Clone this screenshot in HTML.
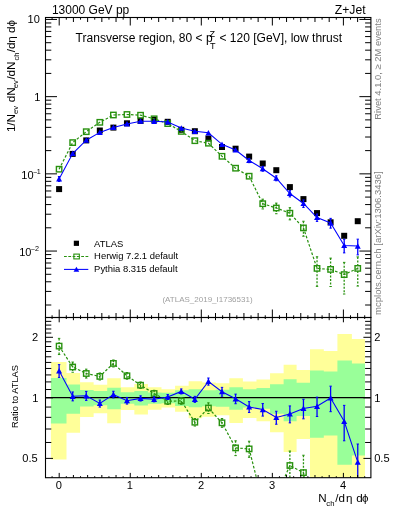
<!DOCTYPE html><html><head><meta charset="utf-8"><style>html,body{margin:0;padding:0;background:#fff;width:393px;height:512px;overflow:hidden;position:relative}</style></head><body><svg width="393" height="512" viewBox="0 0 393 512" style="position:absolute;left:0;top:0;will-change:transform"><defs><clipPath id="cm"><rect x="45.5" y="17.5" width="325.3" height="299.9"/></clipPath><clipPath id="cr"><rect x="45.5" y="317.4" width="325.3" height="160.1"/></clipPath></defs><rect width="393" height="512" fill="#fff"/><g clip-path="url(#cr)"><path d="M50.90 362.08H66.50V459.45H50.90ZM66.50 372.95H80.07V432.80H66.50ZM80.07 382.23H93.64V416.89H80.07ZM93.64 384.72H107.21V413.31H93.64ZM107.21 378.23H120.78V423.19H107.21ZM120.78 387.21H134.35V409.97H120.78ZM134.35 383.89H147.92V414.47H134.35ZM147.92 387.36H161.49V409.78H147.92ZM161.49 389.20H175.06V407.45H161.49ZM175.06 385.86H188.63V411.75H175.06ZM188.63 381.29H202.20V418.30H188.63ZM202.20 382.40H215.77V416.63H202.20ZM215.77 383.28H229.34V415.34H215.77ZM229.34 378.30H242.91V423.07H229.34ZM242.91 381.46H256.48V418.04H242.91ZM256.48 379.46H270.05V421.17H256.48ZM270.05 373.23H283.62V432.26H270.05ZM283.62 364.68H296.60V451.98H283.62ZM296.60 370.02H310.00V438.94H296.60ZM310.00 349.20H323.80V517.32H310.00ZM323.80 351.00H337.40V505.89H323.80ZM337.40 334.00H351.90V600.00H337.40ZM351.90 339.00H365.00V600.00H351.90Z" fill="#ffff99"/><path d="M50.90 378.07H66.50V423.46H50.90ZM66.50 384.48H80.07V413.65H66.50ZM80.07 389.96H93.64V406.52H80.07ZM93.64 391.02H107.21V405.26H93.64ZM107.21 387.73H120.78V409.30H107.21ZM120.78 392.37H134.35V403.70H120.78ZM134.35 390.88H147.92V405.42H134.35ZM147.92 392.38H161.49V403.69H147.92ZM161.49 392.68H175.06V403.34H161.49ZM175.06 390.33H188.63V406.07H175.06ZM188.63 389.27H202.20V407.36H188.63ZM202.20 390.22H215.77V406.21H202.20ZM215.77 389.82H229.34V406.69H215.77ZM229.34 387.33H242.91V409.81H229.34ZM242.91 389.22H256.48V407.42H242.91ZM256.48 388.12H270.05V408.80H256.48ZM270.05 384.37H283.62V413.80H270.05ZM283.62 379.36H296.60V421.33H283.62ZM296.60 382.82H310.00V416.02H296.60ZM310.00 370.57H323.80V437.73H310.00ZM323.80 371.61H337.40V435.53H323.80ZM337.40 360.42H351.90V464.72H337.40ZM351.90 363.42H365.00V455.51H351.90Z" fill="#99ff99"/><line x1="45.5" y1="397.6" x2="370.9" y2="397.6" stroke="#000" stroke-width="1.1"/></g><g clip-path="url(#cr)"><polyline points="59.10,346.10 72.67,367.00 86.25,373.50 99.82,376.40 113.40,363.40 126.97,375.80 140.55,385.20 154.12,393.50 167.70,401.20 181.28,400.90 194.85,422.20 208.42,408.00 222.00,422.80 235.57,447.90 249.15,448.90 262.73,502.57 276.30,496.32 289.88,465.50 303.45,472.60 317.03,541.91 330.60,520.55 344.18,498.92 357.75,520.81" fill="none" stroke="rgb(40,145,15)" stroke-width="1.2" stroke-dasharray="2.6 1.8"/><line x1="59.10" y1="338.39" x2="59.10" y2="354.55" stroke="rgb(40,145,15)" stroke-width="1.3" stroke-dasharray="2 1.5"/><line x1="57.90" y1="338.39" x2="60.30" y2="338.39" stroke="rgb(40,145,15)" stroke-width="1"/><line x1="57.90" y1="354.55" x2="60.30" y2="354.55" stroke="rgb(40,145,15)" stroke-width="1"/><rect x="56.40" y="343.40" width="5.40" height="5.40" fill="none" stroke="rgb(40,145,15)" stroke-width="1.4"/><line x1="72.67" y1="362.05" x2="72.67" y2="372.25" stroke="rgb(40,145,15)" stroke-width="1.3" stroke-dasharray="2 1.5"/><line x1="71.47" y1="362.05" x2="73.88" y2="362.05" stroke="rgb(40,145,15)" stroke-width="1"/><line x1="71.47" y1="372.25" x2="73.88" y2="372.25" stroke="rgb(40,145,15)" stroke-width="1"/><rect x="69.97" y="364.30" width="5.40" height="5.40" fill="none" stroke="rgb(40,145,15)" stroke-width="1.4"/><line x1="86.25" y1="369.15" x2="86.25" y2="378.08" stroke="rgb(40,145,15)" stroke-width="1.3" stroke-dasharray="2 1.5"/><line x1="85.05" y1="369.15" x2="87.45" y2="369.15" stroke="rgb(40,145,15)" stroke-width="1"/><line x1="85.05" y1="378.08" x2="87.45" y2="378.08" stroke="rgb(40,145,15)" stroke-width="1"/><rect x="83.55" y="370.80" width="5.40" height="5.40" fill="none" stroke="rgb(40,145,15)" stroke-width="1.4"/><line x1="99.82" y1="372.97" x2="99.82" y2="379.97" stroke="rgb(40,145,15)" stroke-width="1.3" stroke-dasharray="2 1.5"/><line x1="98.62" y1="372.97" x2="101.02" y2="372.97" stroke="rgb(40,145,15)" stroke-width="1"/><line x1="98.62" y1="379.97" x2="101.02" y2="379.97" stroke="rgb(40,145,15)" stroke-width="1"/><rect x="97.12" y="373.70" width="5.40" height="5.40" fill="none" stroke="rgb(40,145,15)" stroke-width="1.4"/><line x1="113.40" y1="359.97" x2="113.40" y2="366.97" stroke="rgb(40,145,15)" stroke-width="1.3" stroke-dasharray="2 1.5"/><line x1="112.20" y1="359.97" x2="114.60" y2="359.97" stroke="rgb(40,145,15)" stroke-width="1"/><line x1="112.20" y1="366.97" x2="114.60" y2="366.97" stroke="rgb(40,145,15)" stroke-width="1"/><rect x="110.70" y="360.70" width="5.40" height="5.40" fill="none" stroke="rgb(40,145,15)" stroke-width="1.4"/><line x1="126.97" y1="372.51" x2="126.97" y2="379.21" stroke="rgb(40,145,15)" stroke-width="1.3" stroke-dasharray="2 1.5"/><line x1="125.77" y1="372.51" x2="128.17" y2="372.51" stroke="rgb(40,145,15)" stroke-width="1"/><line x1="125.77" y1="379.21" x2="128.17" y2="379.21" stroke="rgb(40,145,15)" stroke-width="1"/><rect x="124.27" y="373.10" width="5.40" height="5.40" fill="none" stroke="rgb(40,145,15)" stroke-width="1.4"/><line x1="140.55" y1="382.01" x2="140.55" y2="388.51" stroke="rgb(40,145,15)" stroke-width="1.3" stroke-dasharray="2 1.5"/><line x1="139.35" y1="382.01" x2="141.75" y2="382.01" stroke="rgb(40,145,15)" stroke-width="1"/><line x1="139.35" y1="388.51" x2="141.75" y2="388.51" stroke="rgb(40,145,15)" stroke-width="1"/><rect x="137.85" y="382.50" width="5.40" height="5.40" fill="none" stroke="rgb(40,145,15)" stroke-width="1.4"/><line x1="154.12" y1="390.31" x2="154.12" y2="396.81" stroke="rgb(40,145,15)" stroke-width="1.3" stroke-dasharray="2 1.5"/><line x1="152.93" y1="390.31" x2="155.32" y2="390.31" stroke="rgb(40,145,15)" stroke-width="1"/><line x1="152.93" y1="396.81" x2="155.32" y2="396.81" stroke="rgb(40,145,15)" stroke-width="1"/><rect x="151.43" y="390.80" width="5.40" height="5.40" fill="none" stroke="rgb(40,145,15)" stroke-width="1.4"/><line x1="167.70" y1="398.01" x2="167.70" y2="404.51" stroke="rgb(40,145,15)" stroke-width="1.3" stroke-dasharray="2 1.5"/><line x1="166.50" y1="398.01" x2="168.90" y2="398.01" stroke="rgb(40,145,15)" stroke-width="1"/><line x1="166.50" y1="404.51" x2="168.90" y2="404.51" stroke="rgb(40,145,15)" stroke-width="1"/><rect x="165.00" y="398.50" width="5.40" height="5.40" fill="none" stroke="rgb(40,145,15)" stroke-width="1.4"/><line x1="181.28" y1="397.61" x2="181.28" y2="404.31" stroke="rgb(40,145,15)" stroke-width="1.3" stroke-dasharray="2 1.5"/><line x1="180.08" y1="397.61" x2="182.47" y2="397.61" stroke="rgb(40,145,15)" stroke-width="1"/><line x1="180.08" y1="404.31" x2="182.47" y2="404.31" stroke="rgb(40,145,15)" stroke-width="1"/><rect x="178.58" y="398.20" width="5.40" height="5.40" fill="none" stroke="rgb(40,145,15)" stroke-width="1.4"/><line x1="194.85" y1="418.53" x2="194.85" y2="426.03" stroke="rgb(40,145,15)" stroke-width="1.3" stroke-dasharray="2 1.5"/><line x1="193.65" y1="418.53" x2="196.05" y2="418.53" stroke="rgb(40,145,15)" stroke-width="1"/><line x1="193.65" y1="426.03" x2="196.05" y2="426.03" stroke="rgb(40,145,15)" stroke-width="1"/><rect x="192.15" y="419.50" width="5.40" height="5.40" fill="none" stroke="rgb(40,145,15)" stroke-width="1.4"/><line x1="208.42" y1="402.84" x2="208.42" y2="413.48" stroke="rgb(40,145,15)" stroke-width="1.3" stroke-dasharray="2 1.5"/><line x1="207.22" y1="402.84" x2="209.62" y2="402.84" stroke="rgb(40,145,15)" stroke-width="1"/><line x1="207.22" y1="413.48" x2="209.62" y2="413.48" stroke="rgb(40,145,15)" stroke-width="1"/><rect x="205.72" y="405.30" width="5.40" height="5.40" fill="none" stroke="rgb(40,145,15)" stroke-width="1.4"/><line x1="222.00" y1="418.51" x2="222.00" y2="427.31" stroke="rgb(40,145,15)" stroke-width="1.3" stroke-dasharray="2 1.5"/><line x1="220.80" y1="418.51" x2="223.20" y2="418.51" stroke="rgb(40,145,15)" stroke-width="1"/><line x1="220.80" y1="427.31" x2="223.20" y2="427.31" stroke="rgb(40,145,15)" stroke-width="1"/><rect x="219.30" y="420.10" width="5.40" height="5.40" fill="none" stroke="rgb(40,145,15)" stroke-width="1.4"/><line x1="235.57" y1="440.81" x2="235.57" y2="455.62" stroke="rgb(40,145,15)" stroke-width="1.3" stroke-dasharray="2 1.5"/><line x1="234.38" y1="440.81" x2="236.77" y2="440.81" stroke="rgb(40,145,15)" stroke-width="1"/><line x1="234.38" y1="455.62" x2="236.77" y2="455.62" stroke="rgb(40,145,15)" stroke-width="1"/><rect x="232.88" y="445.20" width="5.40" height="5.40" fill="none" stroke="rgb(40,145,15)" stroke-width="1.4"/><line x1="249.15" y1="441.23" x2="249.15" y2="457.31" stroke="rgb(40,145,15)" stroke-width="1.3" stroke-dasharray="2 1.5"/><line x1="247.95" y1="441.23" x2="250.35" y2="441.23" stroke="rgb(40,145,15)" stroke-width="1"/><line x1="247.95" y1="457.31" x2="250.35" y2="457.31" stroke="rgb(40,145,15)" stroke-width="1"/><rect x="246.45" y="446.20" width="5.40" height="5.40" fill="none" stroke="rgb(40,145,15)" stroke-width="1.4"/><line x1="289.88" y1="451.04" x2="289.88" y2="482.84" stroke="rgb(40,145,15)" stroke-width="1.3" stroke-dasharray="2 1.5"/><line x1="288.68" y1="451.04" x2="291.07" y2="451.04" stroke="rgb(40,145,15)" stroke-width="1"/><line x1="288.68" y1="482.84" x2="291.07" y2="482.84" stroke="rgb(40,145,15)" stroke-width="1"/><rect x="287.18" y="462.80" width="5.40" height="5.40" fill="none" stroke="rgb(40,145,15)" stroke-width="1.4"/><line x1="303.45" y1="455.23" x2="303.45" y2="494.30" stroke="rgb(40,145,15)" stroke-width="1.3" stroke-dasharray="2 1.5"/><line x1="302.25" y1="455.23" x2="304.65" y2="455.23" stroke="rgb(40,145,15)" stroke-width="1"/><line x1="302.25" y1="494.30" x2="304.65" y2="494.30" stroke="rgb(40,145,15)" stroke-width="1"/><rect x="300.75" y="469.90" width="5.40" height="5.40" fill="none" stroke="rgb(40,145,15)" stroke-width="1.4"/><polyline points="59.10,370.80 72.67,396.30 86.25,395.80 99.82,403.50 113.40,394.50 126.97,400.70 140.55,398.40 154.12,399.30 167.70,397.00 181.28,391.40 194.85,399.30 208.42,381.50 222.00,391.70 235.57,398.80 249.15,406.90 262.73,409.60 276.30,417.50 289.88,414.00 303.45,408.50 317.03,406.30 330.60,398.00 344.18,421.30 357.75,462.10" fill="none" stroke="#0000ff" stroke-width="1.05"/><line x1="59.10" y1="364.62" x2="59.10" y2="377.45" stroke="#0000ff" stroke-width="1.3"/><line x1="57.90" y1="364.62" x2="60.30" y2="364.62" stroke="#0000ff" stroke-width="1"/><line x1="57.90" y1="377.45" x2="60.30" y2="377.45" stroke="#0000ff" stroke-width="1"/><path d="M59.10 367.90 L62.10 373.40 L56.10 373.40Z" fill="#0000ff"/><line x1="72.67" y1="391.95" x2="72.67" y2="400.88" stroke="#0000ff" stroke-width="1.3"/><line x1="71.47" y1="391.95" x2="73.88" y2="391.95" stroke="#0000ff" stroke-width="1"/><line x1="71.47" y1="400.88" x2="73.88" y2="400.88" stroke="#0000ff" stroke-width="1"/><path d="M72.67 393.40 L75.67 398.90 L69.67 398.90Z" fill="#0000ff"/><line x1="86.25" y1="391.42" x2="86.25" y2="400.41" stroke="#0000ff" stroke-width="1.3"/><line x1="85.05" y1="391.42" x2="87.45" y2="391.42" stroke="#0000ff" stroke-width="1"/><line x1="85.05" y1="400.41" x2="87.45" y2="400.41" stroke="#0000ff" stroke-width="1"/><path d="M86.25 392.90 L89.25 398.40 L83.25 398.40Z" fill="#0000ff"/><line x1="99.82" y1="400.04" x2="99.82" y2="407.10" stroke="#0000ff" stroke-width="1.3"/><line x1="98.62" y1="400.04" x2="101.02" y2="400.04" stroke="#0000ff" stroke-width="1"/><line x1="98.62" y1="407.10" x2="101.02" y2="407.10" stroke="#0000ff" stroke-width="1"/><path d="M99.82 400.60 L102.82 406.10 L96.82 406.10Z" fill="#0000ff"/><line x1="113.40" y1="391.26" x2="113.40" y2="397.86" stroke="#0000ff" stroke-width="1.3"/><line x1="112.20" y1="391.26" x2="114.60" y2="391.26" stroke="#0000ff" stroke-width="1"/><line x1="112.20" y1="397.86" x2="114.60" y2="397.86" stroke="#0000ff" stroke-width="1"/><path d="M113.40 391.60 L116.40 397.10 L110.40 397.10Z" fill="#0000ff"/><line x1="126.97" y1="397.45" x2="126.97" y2="404.08" stroke="#0000ff" stroke-width="1.3"/><line x1="125.77" y1="397.45" x2="128.17" y2="397.45" stroke="#0000ff" stroke-width="1"/><line x1="125.77" y1="404.08" x2="128.17" y2="404.08" stroke="#0000ff" stroke-width="1"/><path d="M126.97 397.80 L129.97 403.30 L123.97 403.30Z" fill="#0000ff"/><line x1="140.55" y1="395.84" x2="140.55" y2="401.04" stroke="#0000ff" stroke-width="1.3"/><line x1="139.35" y1="395.84" x2="141.75" y2="395.84" stroke="#0000ff" stroke-width="1"/><line x1="139.35" y1="401.04" x2="141.75" y2="401.04" stroke="#0000ff" stroke-width="1"/><path d="M140.55 395.50 L143.55 401.00 L137.55 401.00Z" fill="#0000ff"/><line x1="154.12" y1="396.83" x2="154.12" y2="401.84" stroke="#0000ff" stroke-width="1.3"/><line x1="152.93" y1="396.83" x2="155.32" y2="396.83" stroke="#0000ff" stroke-width="1"/><line x1="152.93" y1="401.84" x2="155.32" y2="401.84" stroke="#0000ff" stroke-width="1"/><path d="M154.12 396.40 L157.12 401.90 L151.12 401.90Z" fill="#0000ff"/><line x1="167.70" y1="394.53" x2="167.70" y2="399.54" stroke="#0000ff" stroke-width="1.3"/><line x1="166.50" y1="394.53" x2="168.90" y2="394.53" stroke="#0000ff" stroke-width="1"/><line x1="166.50" y1="399.54" x2="168.90" y2="399.54" stroke="#0000ff" stroke-width="1"/><path d="M167.70 394.10 L170.70 399.60 L164.70 399.60Z" fill="#0000ff"/><line x1="181.28" y1="388.93" x2="181.28" y2="393.94" stroke="#0000ff" stroke-width="1.3"/><line x1="180.08" y1="388.93" x2="182.47" y2="388.93" stroke="#0000ff" stroke-width="1"/><line x1="180.08" y1="393.94" x2="182.47" y2="393.94" stroke="#0000ff" stroke-width="1"/><path d="M181.28 388.50 L184.28 394.00 L178.28 394.00Z" fill="#0000ff"/><line x1="194.85" y1="396.35" x2="194.85" y2="402.35" stroke="#0000ff" stroke-width="1.3"/><line x1="193.65" y1="396.35" x2="196.05" y2="396.35" stroke="#0000ff" stroke-width="1"/><line x1="193.65" y1="402.35" x2="196.05" y2="402.35" stroke="#0000ff" stroke-width="1"/><path d="M194.85 396.40 L197.85 401.90 L191.85 401.90Z" fill="#0000ff"/><line x1="208.42" y1="378.00" x2="208.42" y2="385.14" stroke="#0000ff" stroke-width="1.3"/><line x1="207.22" y1="378.00" x2="209.62" y2="378.00" stroke="#0000ff" stroke-width="1"/><line x1="207.22" y1="385.14" x2="209.62" y2="385.14" stroke="#0000ff" stroke-width="1"/><path d="M208.42 378.60 L211.42 384.10 L205.42 384.10Z" fill="#0000ff"/><line x1="222.00" y1="387.39" x2="222.00" y2="396.23" stroke="#0000ff" stroke-width="1.3"/><line x1="220.80" y1="387.39" x2="223.20" y2="387.39" stroke="#0000ff" stroke-width="1"/><line x1="220.80" y1="396.23" x2="223.20" y2="396.23" stroke="#0000ff" stroke-width="1"/><path d="M222.00 388.80 L225.00 394.30 L219.00 394.30Z" fill="#0000ff"/><line x1="235.57" y1="394.12" x2="235.57" y2="403.74" stroke="#0000ff" stroke-width="1.3"/><line x1="234.38" y1="394.12" x2="236.77" y2="394.12" stroke="#0000ff" stroke-width="1"/><line x1="234.38" y1="403.74" x2="236.77" y2="403.74" stroke="#0000ff" stroke-width="1"/><path d="M235.57 395.90 L238.57 401.40 L232.57 401.40Z" fill="#0000ff"/><line x1="249.15" y1="401.61" x2="249.15" y2="412.53" stroke="#0000ff" stroke-width="1.3"/><line x1="247.95" y1="401.61" x2="250.35" y2="401.61" stroke="#0000ff" stroke-width="1"/><line x1="247.95" y1="412.53" x2="250.35" y2="412.53" stroke="#0000ff" stroke-width="1"/><path d="M249.15 404.00 L252.15 409.50 L246.15 409.50Z" fill="#0000ff"/><line x1="262.73" y1="403.54" x2="262.73" y2="416.12" stroke="#0000ff" stroke-width="1.3"/><line x1="261.53" y1="403.54" x2="263.93" y2="403.54" stroke="#0000ff" stroke-width="1"/><line x1="261.53" y1="416.12" x2="263.93" y2="416.12" stroke="#0000ff" stroke-width="1"/><path d="M262.73 406.70 L265.73 412.20 L259.73 412.20Z" fill="#0000ff"/><line x1="276.30" y1="411.25" x2="276.30" y2="424.24" stroke="#0000ff" stroke-width="1.3"/><line x1="275.10" y1="411.25" x2="277.50" y2="411.25" stroke="#0000ff" stroke-width="1"/><line x1="275.10" y1="424.24" x2="277.50" y2="424.24" stroke="#0000ff" stroke-width="1"/><path d="M276.30 414.60 L279.30 420.10 L273.30 420.10Z" fill="#0000ff"/><line x1="289.88" y1="405.93" x2="289.88" y2="422.89" stroke="#0000ff" stroke-width="1.3"/><line x1="288.68" y1="405.93" x2="291.07" y2="405.93" stroke="#0000ff" stroke-width="1"/><line x1="288.68" y1="422.89" x2="291.07" y2="422.89" stroke="#0000ff" stroke-width="1"/><path d="M289.88 411.10 L292.88 416.60 L286.88 416.60Z" fill="#0000ff"/><line x1="303.45" y1="399.25" x2="303.45" y2="418.84" stroke="#0000ff" stroke-width="1.3"/><line x1="302.25" y1="399.25" x2="304.65" y2="399.25" stroke="#0000ff" stroke-width="1"/><line x1="302.25" y1="418.84" x2="304.65" y2="418.84" stroke="#0000ff" stroke-width="1"/><path d="M303.45 405.60 L306.45 411.10 L300.45 411.10Z" fill="#0000ff"/><line x1="317.03" y1="397.18" x2="317.03" y2="416.48" stroke="#0000ff" stroke-width="1.3"/><line x1="315.83" y1="397.18" x2="318.23" y2="397.18" stroke="#0000ff" stroke-width="1"/><line x1="315.83" y1="416.48" x2="318.23" y2="416.48" stroke="#0000ff" stroke-width="1"/><path d="M317.03 403.40 L320.03 408.90 L314.03 408.90Z" fill="#0000ff"/><line x1="330.60" y1="386.17" x2="330.60" y2="411.68" stroke="#0000ff" stroke-width="1.3"/><line x1="329.40" y1="386.17" x2="331.80" y2="386.17" stroke="#0000ff" stroke-width="1"/><line x1="329.40" y1="411.68" x2="331.80" y2="411.68" stroke="#0000ff" stroke-width="1"/><path d="M330.60 395.10 L333.60 400.60 L327.60 400.60Z" fill="#0000ff"/><line x1="344.18" y1="405.37" x2="344.18" y2="440.79" stroke="#0000ff" stroke-width="1.3"/><line x1="342.98" y1="405.37" x2="345.38" y2="405.37" stroke="#0000ff" stroke-width="1"/><line x1="342.98" y1="440.79" x2="345.38" y2="440.79" stroke="#0000ff" stroke-width="1"/><path d="M344.18 418.40 L347.18 423.90 L341.18 423.90Z" fill="#0000ff"/><line x1="357.75" y1="444.02" x2="357.75" y2="484.93" stroke="#0000ff" stroke-width="1.3"/><line x1="356.55" y1="444.02" x2="358.95" y2="444.02" stroke="#0000ff" stroke-width="1"/><line x1="356.55" y1="484.93" x2="358.95" y2="484.93" stroke="#0000ff" stroke-width="1"/><path d="M357.75 459.20 L360.75 464.70 L354.75 464.70Z" fill="#0000ff"/></g><g clip-path="url(#cm)"><rect x="56.10" y="186.10" width="6.0" height="6.0" fill="#000"/><rect x="69.67" y="150.90" width="6.0" height="6.0" fill="#000"/><rect x="83.25" y="137.40" width="6.0" height="6.0" fill="#000"/><rect x="96.82" y="127.50" width="6.0" height="6.0" fill="#000"/><rect x="110.40" y="124.60" width="6.0" height="6.0" fill="#000"/><rect x="123.97" y="120.30" width="6.0" height="6.0" fill="#000"/><rect x="137.55" y="117.90" width="6.0" height="6.0" fill="#000"/><rect x="151.12" y="116.70" width="6.0" height="6.0" fill="#000"/><rect x="164.70" y="118.80" width="6.0" height="6.0" fill="#000"/><rect x="178.28" y="126.80" width="6.0" height="6.0" fill="#000"/><rect x="191.85" y="128.20" width="6.0" height="6.0" fill="#000"/><rect x="205.42" y="135.50" width="6.0" height="6.0" fill="#000"/><rect x="219.00" y="144.00" width="6.0" height="6.0" fill="#000"/><rect x="232.57" y="145.70" width="6.0" height="6.0" fill="#000"/><rect x="246.15" y="153.60" width="6.0" height="6.0" fill="#000"/><rect x="259.73" y="160.50" width="6.0" height="6.0" fill="#000"/><rect x="273.30" y="167.20" width="6.0" height="6.0" fill="#000"/><rect x="286.88" y="184.10" width="6.0" height="6.0" fill="#000"/><rect x="300.45" y="196.10" width="6.0" height="6.0" fill="#000"/><rect x="314.03" y="210.10" width="6.0" height="6.0" fill="#000"/><rect x="327.60" y="219.30" width="6.0" height="6.0" fill="#000"/><rect x="341.18" y="232.80" width="6.0" height="6.0" fill="#000"/><rect x="354.75" y="218.20" width="6.0" height="6.0" fill="#000"/><polyline points="59.10,169.20 72.67,142.60 86.25,131.70 99.82,122.30 113.40,115.00 126.97,114.50 140.55,115.20 154.12,118.80 167.70,123.60 181.28,131.40 194.85,140.70 208.42,143.20 222.00,156.30 235.57,168.20 249.15,176.20 262.73,203.70 276.30,208.00 289.88,213.20 303.45,227.90 317.03,268.40 330.60,269.40 344.18,274.60 357.75,268.40" fill="none" stroke="rgb(40,145,15)" stroke-width="1.2" stroke-dasharray="2.6 1.8"/><rect x="56.40" y="166.50" width="5.40" height="5.40" fill="none" stroke="rgb(40,145,15)" stroke-width="1.4"/><rect x="69.97" y="139.90" width="5.40" height="5.40" fill="none" stroke="rgb(40,145,15)" stroke-width="1.4"/><rect x="83.55" y="129.00" width="5.40" height="5.40" fill="none" stroke="rgb(40,145,15)" stroke-width="1.4"/><rect x="97.12" y="119.60" width="5.40" height="5.40" fill="none" stroke="rgb(40,145,15)" stroke-width="1.4"/><rect x="110.70" y="112.30" width="5.40" height="5.40" fill="none" stroke="rgb(40,145,15)" stroke-width="1.4"/><rect x="124.27" y="111.80" width="5.40" height="5.40" fill="none" stroke="rgb(40,145,15)" stroke-width="1.4"/><rect x="137.85" y="112.50" width="5.40" height="5.40" fill="none" stroke="rgb(40,145,15)" stroke-width="1.4"/><rect x="151.43" y="116.10" width="5.40" height="5.40" fill="none" stroke="rgb(40,145,15)" stroke-width="1.4"/><rect x="165.00" y="120.90" width="5.40" height="5.40" fill="none" stroke="rgb(40,145,15)" stroke-width="1.4"/><rect x="178.58" y="128.70" width="5.40" height="5.40" fill="none" stroke="rgb(40,145,15)" stroke-width="1.4"/><rect x="192.15" y="138.00" width="5.40" height="5.40" fill="none" stroke="rgb(40,145,15)" stroke-width="1.4"/><rect x="205.72" y="140.50" width="5.40" height="5.40" fill="none" stroke="rgb(40,145,15)" stroke-width="1.4"/><rect x="219.30" y="153.60" width="5.40" height="5.40" fill="none" stroke="rgb(40,145,15)" stroke-width="1.4"/><rect x="232.88" y="165.50" width="5.40" height="5.40" fill="none" stroke="rgb(40,145,15)" stroke-width="1.4"/><rect x="246.45" y="173.50" width="5.40" height="5.40" fill="none" stroke="rgb(40,145,15)" stroke-width="1.4"/><line x1="262.73" y1="199.16" x2="262.73" y2="208.95" stroke="rgb(40,145,15)" stroke-width="1.3" stroke-dasharray="2 1.5"/><line x1="261.53" y1="199.16" x2="263.93" y2="199.16" stroke="rgb(40,145,15)" stroke-width="1"/><line x1="261.53" y1="208.95" x2="263.93" y2="208.95" stroke="rgb(40,145,15)" stroke-width="1"/><rect x="260.03" y="201.00" width="5.40" height="5.40" fill="none" stroke="rgb(40,145,15)" stroke-width="1.4"/><line x1="276.30" y1="203.11" x2="276.30" y2="213.73" stroke="rgb(40,145,15)" stroke-width="1.3" stroke-dasharray="2 1.5"/><line x1="275.10" y1="203.11" x2="277.50" y2="203.11" stroke="rgb(40,145,15)" stroke-width="1"/><line x1="275.10" y1="213.73" x2="277.50" y2="213.73" stroke="rgb(40,145,15)" stroke-width="1"/><rect x="273.60" y="205.30" width="5.40" height="5.40" fill="none" stroke="rgb(40,145,15)" stroke-width="1.4"/><line x1="289.88" y1="207.65" x2="289.88" y2="219.85" stroke="rgb(40,145,15)" stroke-width="1.3" stroke-dasharray="2 1.5"/><line x1="288.68" y1="207.65" x2="291.07" y2="207.65" stroke="rgb(40,145,15)" stroke-width="1"/><line x1="288.68" y1="219.85" x2="291.07" y2="219.85" stroke="rgb(40,145,15)" stroke-width="1"/><rect x="287.18" y="210.50" width="5.40" height="5.40" fill="none" stroke="rgb(40,145,15)" stroke-width="1.4"/><line x1="303.45" y1="221.23" x2="303.45" y2="236.23" stroke="rgb(40,145,15)" stroke-width="1.3" stroke-dasharray="2 1.5"/><line x1="302.25" y1="221.23" x2="304.65" y2="221.23" stroke="rgb(40,145,15)" stroke-width="1"/><line x1="302.25" y1="236.23" x2="304.65" y2="236.23" stroke="rgb(40,145,15)" stroke-width="1"/><rect x="300.75" y="225.20" width="5.40" height="5.40" fill="none" stroke="rgb(40,145,15)" stroke-width="1.4"/><line x1="317.03" y1="256.76" x2="317.03" y2="286.38" stroke="rgb(40,145,15)" stroke-width="1.3" stroke-dasharray="2 1.5"/><line x1="315.83" y1="256.76" x2="318.23" y2="256.76" stroke="rgb(40,145,15)" stroke-width="1"/><line x1="315.83" y1="286.38" x2="318.23" y2="286.38" stroke="rgb(40,145,15)" stroke-width="1"/><rect x="314.33" y="265.70" width="5.40" height="5.40" fill="none" stroke="rgb(40,145,15)" stroke-width="1.4"/><line x1="330.60" y1="258.12" x2="330.60" y2="286.53" stroke="rgb(40,145,15)" stroke-width="1.3" stroke-dasharray="2 1.5"/><line x1="329.40" y1="258.12" x2="331.80" y2="258.12" stroke="rgb(40,145,15)" stroke-width="1"/><line x1="329.40" y1="286.53" x2="331.80" y2="286.53" stroke="rgb(40,145,15)" stroke-width="1"/><rect x="327.90" y="266.70" width="5.40" height="5.40" fill="none" stroke="rgb(40,145,15)" stroke-width="1.4"/><line x1="344.18" y1="262.37" x2="344.18" y2="294.04" stroke="rgb(40,145,15)" stroke-width="1.3" stroke-dasharray="2 1.5"/><line x1="342.98" y1="262.37" x2="345.38" y2="262.37" stroke="rgb(40,145,15)" stroke-width="1"/><line x1="342.98" y1="294.04" x2="345.38" y2="294.04" stroke="rgb(40,145,15)" stroke-width="1"/><rect x="341.48" y="271.90" width="5.40" height="5.40" fill="none" stroke="rgb(40,145,15)" stroke-width="1.4"/><line x1="357.75" y1="256.88" x2="357.75" y2="286.09" stroke="rgb(40,145,15)" stroke-width="1.3" stroke-dasharray="2 1.5"/><line x1="356.55" y1="256.88" x2="358.95" y2="256.88" stroke="rgb(40,145,15)" stroke-width="1"/><line x1="356.55" y1="286.09" x2="358.95" y2="286.09" stroke="rgb(40,145,15)" stroke-width="1"/><rect x="355.05" y="265.70" width="5.40" height="5.40" fill="none" stroke="rgb(40,145,15)" stroke-width="1.4"/><polyline points="59.10,178.90 72.67,153.50 86.25,140.20 99.82,132.40 113.40,127.40 126.97,124.00 140.55,121.20 154.12,121.30 167.70,122.00 181.28,128.10 194.85,131.30 208.42,132.80 222.00,144.30 235.57,150.00 249.15,160.50 262.73,168.70 276.30,178.20 289.88,193.50 303.45,203.50 317.03,217.50 330.60,222.90 344.18,245.40 357.75,246.10" fill="none" stroke="#0000ff" stroke-width="1.05"/><line x1="59.10" y1="176.53" x2="59.10" y2="181.45" stroke="#0000ff" stroke-width="1.3"/><line x1="57.90" y1="176.53" x2="60.30" y2="176.53" stroke="#0000ff" stroke-width="1"/><line x1="57.90" y1="181.45" x2="60.30" y2="181.45" stroke="#0000ff" stroke-width="1"/><path d="M59.10 176.00 L62.10 181.50 L56.10 181.50Z" fill="#0000ff"/><path d="M72.67 150.60 L75.67 156.10 L69.67 156.10Z" fill="#0000ff"/><path d="M86.25 137.30 L89.25 142.80 L83.25 142.80Z" fill="#0000ff"/><path d="M99.82 129.50 L102.82 135.00 L96.82 135.00Z" fill="#0000ff"/><path d="M113.40 124.50 L116.40 130.00 L110.40 130.00Z" fill="#0000ff"/><path d="M126.97 121.10 L129.97 126.60 L123.97 126.60Z" fill="#0000ff"/><path d="M140.55 118.30 L143.55 123.80 L137.55 123.80Z" fill="#0000ff"/><path d="M154.12 118.40 L157.12 123.90 L151.12 123.90Z" fill="#0000ff"/><path d="M167.70 119.10 L170.70 124.60 L164.70 124.60Z" fill="#0000ff"/><path d="M181.28 125.20 L184.28 130.70 L178.28 130.70Z" fill="#0000ff"/><path d="M194.85 128.40 L197.85 133.90 L191.85 133.90Z" fill="#0000ff"/><path d="M208.42 129.90 L211.42 135.40 L205.42 135.40Z" fill="#0000ff"/><path d="M222.00 141.40 L225.00 146.90 L219.00 146.90Z" fill="#0000ff"/><path d="M235.57 147.10 L238.57 152.60 L232.57 152.60Z" fill="#0000ff"/><line x1="249.15" y1="158.47" x2="249.15" y2="162.66" stroke="#0000ff" stroke-width="1.3"/><line x1="247.95" y1="158.47" x2="250.35" y2="158.47" stroke="#0000ff" stroke-width="1"/><line x1="247.95" y1="162.66" x2="250.35" y2="162.66" stroke="#0000ff" stroke-width="1"/><path d="M249.15 157.60 L252.15 163.10 L246.15 163.10Z" fill="#0000ff"/><line x1="262.73" y1="166.37" x2="262.73" y2="171.20" stroke="#0000ff" stroke-width="1.3"/><line x1="261.53" y1="166.37" x2="263.93" y2="166.37" stroke="#0000ff" stroke-width="1"/><line x1="261.53" y1="171.20" x2="263.93" y2="171.20" stroke="#0000ff" stroke-width="1"/><path d="M262.73 165.80 L265.73 171.30 L259.73 171.30Z" fill="#0000ff"/><line x1="276.30" y1="175.80" x2="276.30" y2="180.79" stroke="#0000ff" stroke-width="1.3"/><line x1="275.10" y1="175.80" x2="277.50" y2="175.80" stroke="#0000ff" stroke-width="1"/><line x1="275.10" y1="180.79" x2="277.50" y2="180.79" stroke="#0000ff" stroke-width="1"/><path d="M276.30 175.30 L279.30 180.80 L273.30 180.80Z" fill="#0000ff"/><line x1="289.88" y1="190.40" x2="289.88" y2="196.91" stroke="#0000ff" stroke-width="1.3"/><line x1="288.68" y1="190.40" x2="291.07" y2="190.40" stroke="#0000ff" stroke-width="1"/><line x1="288.68" y1="196.91" x2="291.07" y2="196.91" stroke="#0000ff" stroke-width="1"/><path d="M289.88 190.60 L292.88 196.10 L286.88 196.10Z" fill="#0000ff"/><line x1="303.45" y1="199.95" x2="303.45" y2="207.47" stroke="#0000ff" stroke-width="1.3"/><line x1="302.25" y1="199.95" x2="304.65" y2="199.95" stroke="#0000ff" stroke-width="1"/><line x1="302.25" y1="207.47" x2="304.65" y2="207.47" stroke="#0000ff" stroke-width="1"/><path d="M303.45 200.60 L306.45 206.10 L300.45 206.10Z" fill="#0000ff"/><line x1="317.03" y1="214.00" x2="317.03" y2="221.41" stroke="#0000ff" stroke-width="1.3"/><line x1="315.83" y1="214.00" x2="318.23" y2="214.00" stroke="#0000ff" stroke-width="1"/><line x1="315.83" y1="221.41" x2="318.23" y2="221.41" stroke="#0000ff" stroke-width="1"/><path d="M317.03 214.60 L320.03 220.10 L314.03 220.10Z" fill="#0000ff"/><line x1="330.60" y1="218.36" x2="330.60" y2="228.15" stroke="#0000ff" stroke-width="1.3"/><line x1="329.40" y1="218.36" x2="331.80" y2="218.36" stroke="#0000ff" stroke-width="1"/><line x1="329.40" y1="228.15" x2="331.80" y2="228.15" stroke="#0000ff" stroke-width="1"/><path d="M330.60 220.00 L333.60 225.50 L327.60 225.50Z" fill="#0000ff"/><line x1="344.18" y1="239.29" x2="344.18" y2="252.88" stroke="#0000ff" stroke-width="1.3"/><line x1="342.98" y1="239.29" x2="345.38" y2="239.29" stroke="#0000ff" stroke-width="1"/><line x1="342.98" y1="252.88" x2="345.38" y2="252.88" stroke="#0000ff" stroke-width="1"/><path d="M344.18 242.50 L347.18 248.00 L341.18 248.00Z" fill="#0000ff"/><line x1="357.75" y1="239.16" x2="357.75" y2="254.86" stroke="#0000ff" stroke-width="1.3"/><line x1="356.55" y1="239.16" x2="358.95" y2="239.16" stroke="#0000ff" stroke-width="1"/><line x1="356.55" y1="254.86" x2="358.95" y2="254.86" stroke="#0000ff" stroke-width="1"/><path d="M357.75 243.20 L360.75 248.70 L354.75 248.70Z" fill="#0000ff"/></g><rect x="45.5" y="17.5" width="325.40" height="300.00" fill="none" stroke="#000" stroke-width="1.1"/><rect x="45.5" y="317.5" width="325.40" height="160.20" fill="none" stroke="#000" stroke-width="1.1"/><path d="M52.09 17.50L52.09 19.70M52.09 317.50L52.09 315.30M52.09 317.50L52.09 319.00M52.09 477.70L52.09 476.20M59.20 17.50L59.20 25.50M59.20 317.50L59.20 309.50M59.20 317.50L59.20 322.30M59.20 477.70L59.20 472.90M66.31 17.50L66.31 19.70M66.31 317.50L66.31 315.30M66.31 317.50L66.31 319.00M66.31 477.70L66.31 476.20M73.41 17.50L73.41 22.00M73.41 317.50L73.41 313.00M73.41 317.50L73.41 320.20M73.41 477.70L73.41 475.00M80.52 17.50L80.52 19.70M80.52 317.50L80.52 315.30M80.52 317.50L80.52 319.00M80.52 477.70L80.52 476.20M87.62 17.50L87.62 22.00M87.62 317.50L87.62 313.00M87.62 317.50L87.62 320.20M87.62 477.70L87.62 475.00M94.72 17.50L94.72 19.70M94.72 317.50L94.72 315.30M94.72 317.50L94.72 319.00M94.72 477.70L94.72 476.20M101.83 17.50L101.83 22.00M101.83 317.50L101.83 313.00M101.83 317.50L101.83 320.20M101.83 477.70L101.83 475.00M108.94 17.50L108.94 19.70M108.94 317.50L108.94 315.30M108.94 317.50L108.94 319.00M108.94 477.70L108.94 476.20M116.04 17.50L116.04 22.00M116.04 317.50L116.04 313.00M116.04 317.50L116.04 320.20M116.04 477.70L116.04 475.00M123.15 17.50L123.15 19.70M123.15 317.50L123.15 315.30M123.15 317.50L123.15 319.00M123.15 477.70L123.15 476.20M130.25 17.50L130.25 25.50M130.25 317.50L130.25 309.50M130.25 317.50L130.25 322.30M130.25 477.70L130.25 472.90M137.36 17.50L137.36 19.70M137.36 317.50L137.36 315.30M137.36 317.50L137.36 319.00M137.36 477.70L137.36 476.20M144.46 17.50L144.46 22.00M144.46 317.50L144.46 313.00M144.46 317.50L144.46 320.20M144.46 477.70L144.46 475.00M151.56 17.50L151.56 19.70M151.56 317.50L151.56 315.30M151.56 317.50L151.56 319.00M151.56 477.70L151.56 476.20M158.67 17.50L158.67 22.00M158.67 317.50L158.67 313.00M158.67 317.50L158.67 320.20M158.67 477.70L158.67 475.00M165.77 17.50L165.77 19.70M165.77 317.50L165.77 315.30M165.77 317.50L165.77 319.00M165.77 477.70L165.77 476.20M172.88 17.50L172.88 22.00M172.88 317.50L172.88 313.00M172.88 317.50L172.88 320.20M172.88 477.70L172.88 475.00M179.99 17.50L179.99 19.70M179.99 317.50L179.99 315.30M179.99 317.50L179.99 319.00M179.99 477.70L179.99 476.20M187.09 17.50L187.09 22.00M187.09 317.50L187.09 313.00M187.09 317.50L187.09 320.20M187.09 477.70L187.09 475.00M194.19 17.50L194.19 19.70M194.19 317.50L194.19 315.30M194.19 317.50L194.19 319.00M194.19 477.70L194.19 476.20M201.30 17.50L201.30 25.50M201.30 317.50L201.30 309.50M201.30 317.50L201.30 322.30M201.30 477.70L201.30 472.90M208.41 17.50L208.41 19.70M208.41 317.50L208.41 315.30M208.41 317.50L208.41 319.00M208.41 477.70L208.41 476.20M215.51 17.50L215.51 22.00M215.51 317.50L215.51 313.00M215.51 317.50L215.51 320.20M215.51 477.70L215.51 475.00M222.62 17.50L222.62 19.70M222.62 317.50L222.62 315.30M222.62 317.50L222.62 319.00M222.62 477.70L222.62 476.20M229.72 17.50L229.72 22.00M229.72 317.50L229.72 313.00M229.72 317.50L229.72 320.20M229.72 477.70L229.72 475.00M236.82 17.50L236.82 19.70M236.82 317.50L236.82 315.30M236.82 317.50L236.82 319.00M236.82 477.70L236.82 476.20M243.93 17.50L243.93 22.00M243.93 317.50L243.93 313.00M243.93 317.50L243.93 320.20M243.93 477.70L243.93 475.00M251.04 17.50L251.04 19.70M251.04 317.50L251.04 315.30M251.04 317.50L251.04 319.00M251.04 477.70L251.04 476.20M258.14 17.50L258.14 22.00M258.14 317.50L258.14 313.00M258.14 317.50L258.14 320.20M258.14 477.70L258.14 475.00M265.25 17.50L265.25 19.70M265.25 317.50L265.25 315.30M265.25 317.50L265.25 319.00M265.25 477.70L265.25 476.20M272.35 17.50L272.35 25.50M272.35 317.50L272.35 309.50M272.35 317.50L272.35 322.30M272.35 477.70L272.35 472.90M279.45 17.50L279.45 19.70M279.45 317.50L279.45 315.30M279.45 317.50L279.45 319.00M279.45 477.70L279.45 476.20M286.56 17.50L286.56 22.00M286.56 317.50L286.56 313.00M286.56 317.50L286.56 320.20M286.56 477.70L286.56 475.00M293.66 17.50L293.66 19.70M293.66 317.50L293.66 315.30M293.66 317.50L293.66 319.00M293.66 477.70L293.66 476.20M300.77 17.50L300.77 22.00M300.77 317.50L300.77 313.00M300.77 317.50L300.77 320.20M300.77 477.70L300.77 475.00M307.88 17.50L307.88 19.70M307.88 317.50L307.88 315.30M307.88 317.50L307.88 319.00M307.88 477.70L307.88 476.20M314.98 17.50L314.98 22.00M314.98 317.50L314.98 313.00M314.98 317.50L314.98 320.20M314.98 477.70L314.98 475.00M322.08 17.50L322.08 19.70M322.08 317.50L322.08 315.30M322.08 317.50L322.08 319.00M322.08 477.70L322.08 476.20M329.19 17.50L329.19 22.00M329.19 317.50L329.19 313.00M329.19 317.50L329.19 320.20M329.19 477.70L329.19 475.00M336.29 17.50L336.29 19.70M336.29 317.50L336.29 315.30M336.29 317.50L336.29 319.00M336.29 477.70L336.29 476.20M343.40 17.50L343.40 25.50M343.40 317.50L343.40 309.50M343.40 317.50L343.40 322.30M343.40 477.70L343.40 472.90M350.50 17.50L350.50 19.70M350.50 317.50L350.50 315.30M350.50 317.50L350.50 319.00M350.50 477.70L350.50 476.20M357.61 17.50L357.61 22.00M357.61 317.50L357.61 313.00M357.61 317.50L357.61 320.20M357.61 477.70L357.61 475.00M364.71 17.50L364.71 19.70M364.71 317.50L364.71 315.30M364.71 317.50L364.71 319.00M364.71 477.70L364.71 476.20M45.50 305.01L51.30 305.01M370.90 305.01L365.10 305.01M45.50 291.42L51.30 291.42M370.90 291.42L365.10 291.42M45.50 281.77L51.30 281.77M370.90 281.77L365.10 281.77M45.50 274.29L51.30 274.29M370.90 274.29L365.10 274.29M45.50 268.18L51.30 268.18M370.90 268.18L365.10 268.18M45.50 263.01L51.30 263.01M370.90 263.01L365.10 263.01M45.50 258.53L51.30 258.53M370.90 258.53L365.10 258.53M45.50 254.58L51.30 254.58M370.90 254.58L365.10 254.58M45.50 251.05L57.00 251.05M370.90 251.05L359.40 251.05M45.50 227.81L51.30 227.81M370.90 227.81L365.10 227.81M45.50 214.22L51.30 214.22M370.90 214.22L365.10 214.22M45.50 204.57L51.30 204.57M370.90 204.57L365.10 204.57M45.50 197.09L51.30 197.09M370.90 197.09L365.10 197.09M45.50 190.98L51.30 190.98M370.90 190.98L365.10 190.98M45.50 185.81L51.30 185.81M370.90 185.81L365.10 185.81M45.50 181.33L51.30 181.33M370.90 181.33L365.10 181.33M45.50 177.38L51.30 177.38M370.90 177.38L365.10 177.38M45.50 173.85L57.00 173.85M370.90 173.85L359.40 173.85M45.50 150.61L51.30 150.61M370.90 150.61L365.10 150.61M45.50 137.02L51.30 137.02M370.90 137.02L365.10 137.02M45.50 127.37L51.30 127.37M370.90 127.37L365.10 127.37M45.50 119.89L51.30 119.89M370.90 119.89L365.10 119.89M45.50 113.78L51.30 113.78M370.90 113.78L365.10 113.78M45.50 108.61L51.30 108.61M370.90 108.61L365.10 108.61M45.50 104.13L51.30 104.13M370.90 104.13L365.10 104.13M45.50 100.18L51.30 100.18M370.90 100.18L365.10 100.18M45.50 96.65L57.00 96.65M370.90 96.65L359.40 96.65M45.50 73.41L51.30 73.41M370.90 73.41L365.10 73.41M45.50 59.82L51.30 59.82M370.90 59.82L365.10 59.82M45.50 50.17L51.30 50.17M370.90 50.17L365.10 50.17M45.50 42.69L51.30 42.69M370.90 42.69L365.10 42.69M45.50 36.58L51.30 36.58M370.90 36.58L365.10 36.58M45.50 31.41L51.30 31.41M370.90 31.41L365.10 31.41M45.50 26.93L51.30 26.93M370.90 26.93L365.10 26.93M45.50 22.98L51.30 22.98M370.90 22.98L365.10 22.98M45.50 19.45L57.00 19.45M370.90 19.45L359.40 19.45M45.50 458.40L53.00 458.40M370.90 458.40L363.40 458.40M45.50 442.47L51.30 442.47M370.90 442.47L365.10 442.47M45.50 429.01L51.30 429.01M370.90 429.01L365.10 429.01M45.50 417.34L51.30 417.34M370.90 417.34L365.10 417.34M45.50 407.05L51.30 407.05M370.90 407.05L365.10 407.05M45.50 397.85L53.00 397.85M370.90 397.85L363.40 397.85M45.50 389.52L51.30 389.52M370.90 389.52L365.10 389.52M45.50 381.92L51.30 381.92M370.90 381.92L365.10 381.92M45.50 374.93L51.30 374.93M370.90 374.93L365.10 374.93M45.50 368.46L51.30 368.46M370.90 368.46L365.10 368.46M45.50 362.43L51.30 362.43M370.90 362.43L365.10 362.43M45.50 356.79L51.30 356.79M370.90 356.79L365.10 356.79M45.50 351.50L51.30 351.50M370.90 351.50L365.10 351.50M45.50 346.50L51.30 346.50M370.90 346.50L365.10 346.50M45.50 341.78L51.30 341.78M370.90 341.78L365.10 341.78M45.50 337.30L53.00 337.30M370.90 337.30L363.40 337.30M45.50 333.04L51.30 333.04M370.90 333.04L365.10 333.04M45.50 328.97L51.30 328.97M370.90 328.97L365.10 328.97M45.50 325.09L51.30 325.09M370.90 325.09L365.10 325.09M45.50 321.37L51.30 321.37M370.90 321.37L365.10 321.37" stroke="#000" stroke-width="1" fill="none"/><text x="51.9" y="13.7" font-size="12" font-family="Liberation Sans, sans-serif">13000 GeV pp</text><text x="365.6" y="13.7" font-size="12.2" text-anchor="end" font-family="Liberation Sans, sans-serif">Z+Jet</text><text x="75.6" y="41.7" font-size="12.04" font-family="Liberation Sans, sans-serif">Transverse region, 80 &lt; p<tspan font-size="9" dx="-2.6" dy="7.3">T</tspan><tspan font-size="9" dx="-6.1" dy="-11.6">Z</tspan><tspan dy="4.3" dx="1.2"> &lt; 120 [GeV], low thrust</tspan></text><text x="27.6" y="22.75" font-size="11" font-family="Liberation Sans, sans-serif">10</text><text x="34.3" y="100.85" font-size="11" font-family="Liberation Sans, sans-serif">1</text><text x="21.3" y="178.6" font-size="11" font-family="Liberation Sans, sans-serif">10</text><text x="33.0" y="174.6" font-size="7.2" font-family="Liberation Sans, sans-serif">−</text><text x="36.75" y="173.5" font-size="7.2" font-family="Liberation Sans, sans-serif">1</text><text x="19.2" y="255.6" font-size="11" font-family="Liberation Sans, sans-serif">10</text><text x="30.85" y="251.6" font-size="7.2" font-family="Liberation Sans, sans-serif">−</text><text x="35.05" y="250.6" font-size="7.2" font-family="Liberation Sans, sans-serif">2</text><text transform="translate(14.65,132.1) rotate(-90)" font-size="11.6" font-family="Liberation Sans, sans-serif">1/N</text><text transform="translate(18.3,114.1) rotate(-90)" font-size="7.7" font-family="Liberation Sans, sans-serif">ev</text><text transform="translate(14.65,102.2) rotate(-90)" font-size="11.6" font-family="Liberation Sans, sans-serif">dN</text><text transform="translate(18.3,88.2) rotate(-90)" font-size="7.7" font-family="Liberation Sans, sans-serif">ev</text><text transform="translate(14.65,79.6) rotate(-90)" font-size="11.6" font-family="Liberation Sans, sans-serif">/dN</text><text transform="translate(18.5,60.5) rotate(-90)" font-size="7.7" font-family="Liberation Sans, sans-serif">ch</text><text transform="translate(14.65,52.3) rotate(-90)" font-size="11.6" font-family="Liberation Sans, sans-serif">/dη dϕ</text><text transform="translate(380.5,119.7) rotate(-90)" font-size="9.42" fill="#808080" font-family="Liberation Sans, sans-serif">Rivet 4.1.0, ≥ 2M events</text><text transform="translate(380.5,314.9) rotate(-90)" font-size="9.5" fill="#808080" font-family="Liberation Sans, sans-serif">mcplots.cern.ch [arXiv:1306.3436]</text><rect x="73.80" y="240.70" width="5.2" height="5.2" fill="#000"/><text x="94.1" y="246.7" font-size="9.45" font-family="Liberation Sans, sans-serif">ATLAS</text><line x1="64" y1="256.5" x2="88.3" y2="256.5" stroke="rgb(40,145,15)" stroke-width="1.2" stroke-dasharray="2.8 1.5"/><rect x="73.85" y="254.1" width="5.5" height="4.8" fill="none" stroke="rgb(40,145,15)" stroke-width="1.1"/><text x="94.1" y="259.4" font-size="9.45" font-family="Liberation Sans, sans-serif">Herwig 7.2.1 default</text><line x1="64" y1="269.4" x2="88.3" y2="269.4" stroke="#0000ff" stroke-width="1.05"/><path d="M76.40 266.64 L79.25 271.87 L73.55 271.87Z" fill="#0000ff"/><text x="94.1" y="272.2" font-size="9.45" font-family="Liberation Sans, sans-serif">Pythia 8.315 default</text><text x="207.5" y="302.2" font-size="8" fill="#a0a0a0" text-anchor="middle" font-family="Liberation Sans, sans-serif">(ATLAS_2019_I1736531)</text><text transform="translate(18.4,427.9) rotate(-90)" font-size="9.3" font-family="Liberation Sans, sans-serif">Ratio to ATLAS</text><text x="32.0" y="340.5" font-size="11.1" font-family="Liberation Sans, sans-serif">2</text><text x="374.2" y="340.5" font-size="11.1" font-family="Liberation Sans, sans-serif">2</text><text x="32.3" y="401.7" font-size="11.1" font-family="Liberation Sans, sans-serif">1</text><text x="374.2" y="401.7" font-size="11.1" font-family="Liberation Sans, sans-serif">1</text><text x="22.3" y="461.6" font-size="11.1" font-family="Liberation Sans, sans-serif">0.5</text><text x="374.2" y="461.6" font-size="11.1" font-family="Liberation Sans, sans-serif">0.5</text><text x="58.90" y="488.6" font-size="11.1" text-anchor="middle" font-family="Liberation Sans, sans-serif">0</text><text x="129.95" y="488.6" font-size="11.1" text-anchor="middle" font-family="Liberation Sans, sans-serif">1</text><text x="201.00" y="488.6" font-size="11.1" text-anchor="middle" font-family="Liberation Sans, sans-serif">2</text><text x="272.05" y="488.6" font-size="11.1" text-anchor="middle" font-family="Liberation Sans, sans-serif">3</text><text x="343.10" y="488.6" font-size="11.1" text-anchor="middle" font-family="Liberation Sans, sans-serif">4</text><text x="318.3" y="502.3" font-size="11.6" font-family="Liberation Sans, sans-serif">N</text><text x="326.3" y="505.9" font-size="7.7" font-family="Liberation Sans, sans-serif">ch</text><text x="335.2" y="502.3" font-size="11.6" font-family="Liberation Sans, sans-serif">/d</text><text x="345.9" y="502.3" font-size="11.6" font-family="Liberation Sans, sans-serif">η</text><text x="356.15" y="502.3" font-size="11.6" font-family="Liberation Sans, sans-serif">d</text><text x="361.9" y="502.3" font-size="11.6" font-family="Liberation Sans, sans-serif">ϕ</text></svg></body></html>
